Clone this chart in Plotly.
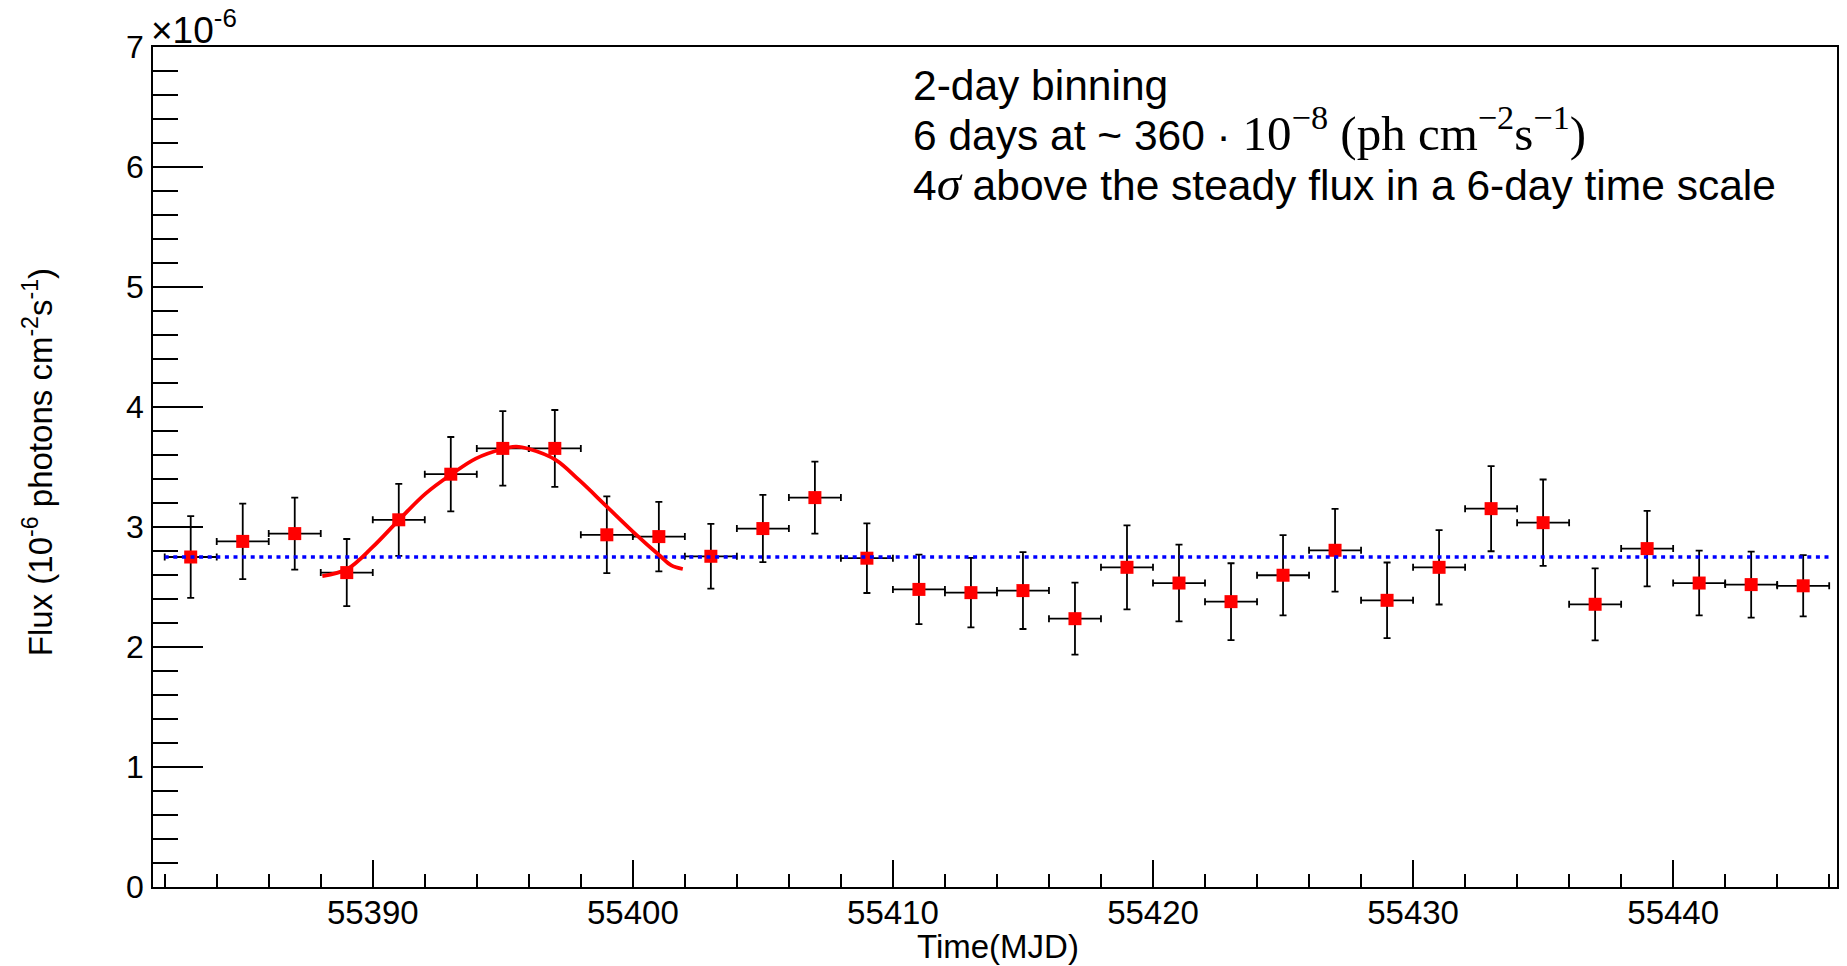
import plotly.graph_objects as go

# ---------------- data (flux in units of 1e-6 ph cm^-2 s^-1) ----------------
days = [55383, 55385, 55387, 55389, 55391, 55393, 55395, 55397, 55399, 55401,
        55403, 55405, 55407, 55409, 55411, 55413, 55415, 55417, 55419, 55421,
        55423, 55425, 55427, 55429, 55431, 55433, 55435, 55437, 55439, 55441,
        55443, 55445]
flux = [2.75, 2.88, 2.945, 2.62, 3.06, 3.44, 3.655, 3.655, 2.935, 2.92,
        2.756, 2.987, 3.245, 2.74, 2.48, 2.453, 2.47, 2.236, 2.664, 2.533,
        2.378, 2.598, 2.806, 2.389, 2.664, 3.153, 3.036, 2.356, 2.82, 2.533,
        2.52, 2.51]
flux_err = [0.34, 0.315, 0.30, 0.28, 0.30, 0.31, 0.31, 0.32, 0.32, 0.29,
            0.27, 0.28, 0.30, 0.29, 0.29, 0.29, 0.32, 0.30, 0.35, 0.32,
            0.32, 0.335, 0.345, 0.315, 0.31, 0.355, 0.36, 0.30, 0.315, 0.27,
            0.275, 0.255]
bin_half_width = [1] * len(days)

# fitted flare curve
fit_x = [55388.06, 55389.02, 55389.98, 55391.01, 55392.04, 55393.03, 55393.96,
         55394.99, 55395.51, 55396.02, 55397.03, 55397.94, 55399.00, 55400.01,
         55401.04, 55401.48, 55401.92]
fit_y = [2.59, 2.65, 2.83, 3.06, 3.28, 3.44, 3.57, 3.65, 3.67, 3.65, 3.56,
         3.39, 3.17, 2.96, 2.76, 2.68, 2.65]

# steady flux level
steady_x = [55382, 55446]
steady_y = [2.75, 2.75]

x_range = [55381.55, 55446.3]
y_range = [0, 7]

SERIF = "font-family:Liberation Serif;font-size:49px"
info_lines = [
    "2-day binning",
    "6 days at ~ 360 · <span style=\"" + SERIF + "\">10<sup>−8</sup> (ph cm<sup>−2</sup>s<sup>−1</sup>)</span>",
    "4<span style=\"" + SERIF + "\"><i>σ</i></span> above the steady flux in a 6-day time scale",
]

SANS = "Liberation Sans, Arial, sans-serif"
W, H = 1847, 966
L, R, T, B = 153, 8, 47, 79
pw, ph = W - L - R, H - T - B

def px_x(px):
    return (px - L) / pw

def px_y(py):
    return 1 - (py - T) / ph

fig = go.Figure()

fig.add_trace(go.Scatter(
    x=days, y=flux, mode="markers",
    marker=dict(symbol="square", size=13, color="#ff0000", line=dict(width=0)),
    error_y=dict(type="data", array=flux_err, symmetric=True, color="black",
                 thickness=1.8, width=3.5),
    error_x=dict(type="data", array=bin_half_width, symmetric=True, color="black",
                 thickness=1.8, width=3.5),
    showlegend=False,
))

fig.add_trace(go.Scatter(
    x=steady_x, y=steady_y, mode="lines",
    line=dict(color="#0000ff", width=3.5, dash="4px,4.6px"),
    showlegend=False,
))

fig.add_trace(go.Scatter(
    x=fit_x, y=fit_y, mode="lines",
    line=dict(color="#ff0000", width=3.8, shape="spline", smoothing=1.0),
    showlegend=False,
))

axis_common = dict(
    showline=True, linecolor="black", linewidth=1.6, mirror=True,
    ticks="inside", tickcolor="black", tickwidth=1.5,
    showgrid=False, zeroline=False,
)

fig.update_xaxes(
    range=x_range, tick0=55390, dtick=10, ticklen=27, tickformat="d",
    minor=dict(tick0=55382, dtick=2, ticks="inside", ticklen=13,
               tickwidth=1.5, tickcolor="black", showgrid=False),
    tickfont=dict(family=SANS, size=33, color="black"),
    ticklabelstandoff=-4,
    **axis_common,
)
fig.update_yaxes(
    range=y_range, tick0=0, dtick=1, ticklen=50,
    minor=dict(tick0=0, dtick=0.2, ticks="inside", ticklen=25,
               tickwidth=1.5, tickcolor="black", showgrid=False),
    tickfont=dict(family=SANS, size=32, color="black"),
    ticklabelstandoff=1,
    **axis_common,
)

annotations = []
# axis titles
annotations.append(dict(
    text="Time(MJD)", xref="paper", yref="paper",
    x=px_x(999), y=px_y(946), xanchor="center", yanchor="middle",
    showarrow=False, font=dict(family=SANS, size=33, color="black"),
))
annotations.append(dict(
    text="Flux (10<sup>-6</sup> photons cm<sup>-2</sup>s<sup>-1</sup>)",
    xref="paper", yref="paper", textangle=-90,
    x=px_x(38), y=px_y(462), xanchor="center", yanchor="middle",
    showarrow=False, font=dict(family=SANS, size=33, color="black"),
))
# exponent label
annotations.append(dict(
    text="×10<sup>-6</sup>", xref="paper", yref="paper",
    x=px_x(149), y=px_y(53), xanchor="left", yanchor="bottom",
    showarrow=False, font=dict(family=SANS, size=37, color="black"),
))
# info text
baselines = [102, 154, 204]
for line, base in zip(info_lines, baselines):
    annotations.append(dict(
        text=line, xref="paper", yref="paper",
        x=px_x(912), y=px_y(base + 9), xanchor="left", yanchor="bottom",
        align="left", showarrow=False,
        font=dict(family=SANS, size=42.5, color="black"),
    ))

fig.update_layout(
    width=W, height=H,
    margin=dict(l=L, r=R, t=T, b=B, pad=0),
    plot_bgcolor="white", paper_bgcolor="white",
    annotations=annotations,
    font=dict(family=SANS, color="black"),
)

fig.write_html("out.html")
